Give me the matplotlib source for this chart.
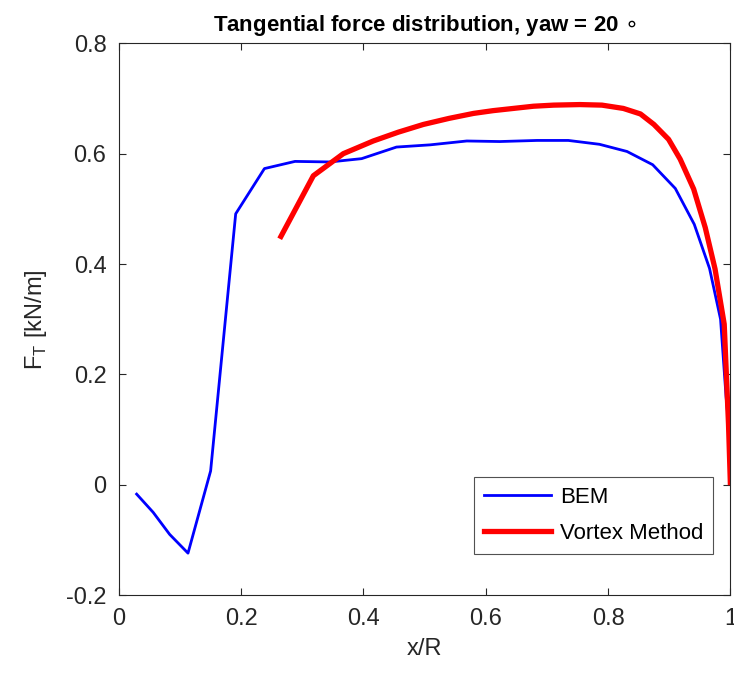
import matplotlib
matplotlib.use("Agg")
import matplotlib.pyplot as plt

plt.rcParams['font.family'] = ['Liberation Sans', 'DejaVu Sans']

# BEM result
bem_x = [0.029, 0.056, 0.083, 0.113, 0.150, 0.191, 0.238, 0.288, 0.345, 0.397,
         0.454, 0.509, 0.569, 0.623, 0.684, 0.735, 0.786, 0.831, 0.873, 0.910,
         0.941, 0.966, 0.984, 0.993, 0.998]
bem_y = [-0.017, -0.050, -0.090, -0.124, 0.025, 0.491, 0.573, 0.586, 0.585, 0.591,
         0.612, 0.616, 0.623, 0.622, 0.624, 0.624, 0.617, 0.604, 0.580, 0.537,
         0.472, 0.392, 0.300, 0.160, 0.100]

# Vortex method result
vm_x = [0.265, 0.318, 0.367, 0.416, 0.457, 0.498, 0.540, 0.580, 0.612, 0.645,
        0.678, 0.711, 0.754, 0.790, 0.825, 0.853, 0.875, 0.899, 0.918, 0.940,
        0.959, 0.975, 0.990, 0.997, 1.000]
vm_y = [0.450, 0.560, 0.600, 0.623, 0.639, 0.653, 0.664, 0.673, 0.678, 0.682,
        0.686, 0.688, 0.689, 0.688, 0.682, 0.672, 0.653, 0.626, 0.590, 0.536,
        0.466, 0.391, 0.291, 0.110, 0.004]

fig = plt.figure(figsize=(7.34, 6.77), dpi=100)
ax = fig.add_axes([0.162, 0.121, 0.833, 0.815])

ax.plot(bem_x, bem_y, color='#0000ff', lw=2.0, label='BEM')
ax.plot(vm_x, vm_y, color='#ff0000', lw=3.8, label='Vortex Method')

ax.set_xlim(0, 1)
ax.set_ylim(-0.2, 0.8)
ax.set_xticks([0, 0.2, 0.4, 0.6, 0.8, 1])
ax.set_xticklabels(['0', '0.2', '0.4', '0.6', '0.8', '1'])
ax.set_yticks([-0.2, 0, 0.2, 0.4, 0.6, 0.8])
ax.set_yticklabels(['-0.2', '0', '0.2', '0.4', '0.6', '0.8'])
ax.tick_params(direction='in', top=True, right=True, labelsize=17,
               colors='#262626', length=5, pad=9)
for s in ax.spines.values():
    s.set_color('#262626')
    s.set_linewidth(0.8)

ax.set_xlabel('x/R', fontsize=17, color='#262626', labelpad=6)
ax.set_ylabel('F$_\\mathregular{T}$ [kN/m]', fontsize=17, color='#262626', labelpad=12)
ax.set_title('Tangential force distribution, yaw = 20 $\\circ$', fontsize=16,
             fontweight='bold', pad=9)

leg = ax.legend(loc='lower right', bbox_to_anchor=(0.972, 0.075), fontsize=16,
                frameon=True, fancybox=False, edgecolor='#262626',
                handlelength=3.0, handletextpad=0.4, borderpad=0.45,
                labelspacing=0.65, borderaxespad=0)
leg.get_frame().set_linewidth(0.8)

fig.savefig('out.png', dpi=100)
